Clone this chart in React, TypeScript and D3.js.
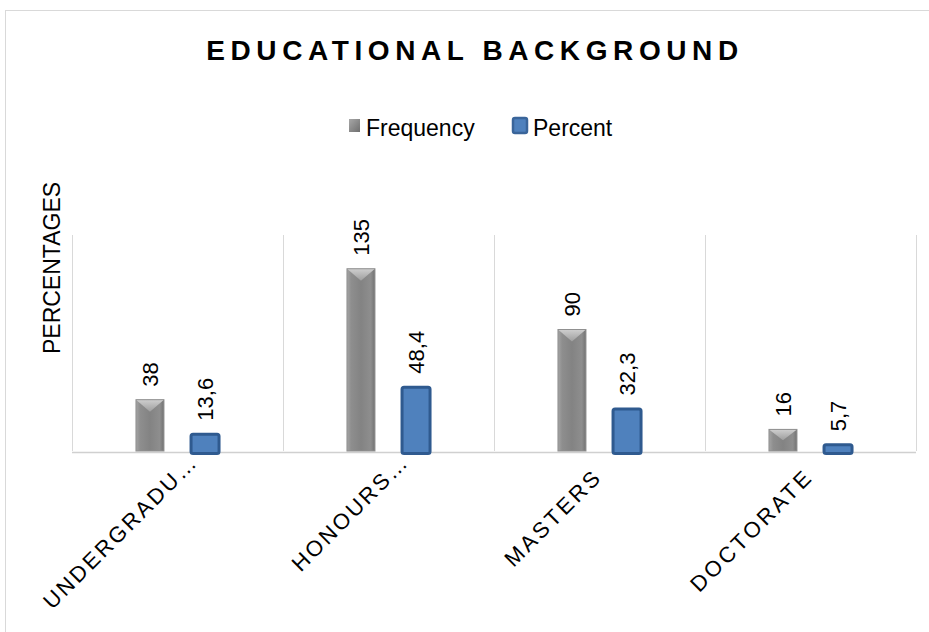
import React from "react";
import * as d3 from "d3";

const categories = ["UNDERGRADU…", "HONOURS…", "MASTERS", "DOCTORATE"];
const seriesNames = ["Frequency", "Percent"];
const frequency = [38, 135, 90, 16];
const percent = [13.6, 48.4, 32.3, 5.7];
const percentLabels = ["13,6", "48,4", "32,3", "5,7"];

const W = 929, H = 632;
const plot = { left: 72, right: 916, top: 235, bottom: 451 };

export default function App() {
  const x0 = d3.scaleBand<string>().domain(categories).range([plot.left, plot.right]).padding(0);
  const bw = x0.bandwidth();
  const x1 = d3
    .scaleBand<string>()
    .domain(seriesNames)
    .range([bw * 0.239, bw * 0.761])
    .paddingInner(0.5)
    .paddingOuter(0.25);
  const y = d3.scaleLinear().domain([0, 160]).range([plot.bottom, plot.top]);
  const font = "'Liberation Sans', Arial, sans-serif";
  const barW = 28;

  const gridXs = [...categories.map((c) => x0(c)!), plot.right];

  return (
    <svg width={W} height={H} style={{ position: "absolute", left: 0, top: 0 }} fontFamily={font}>
      <defs>
        <linearGradient id="gbar" x1="0" x2="1" y1="0" y2="0">
          <stop offset="0" stopColor="#a4a4a4" />
          <stop offset="0.15" stopColor="#8e8e8e" />
          <stop offset="0.5" stopColor="#838383" />
          <stop offset="0.85" stopColor="#8e8e8e" />
          <stop offset="1" stopColor="#727272" />
        </linearGradient>
        <linearGradient id="gtop" x1="0" x2="0" y1="0" y2="1">
          <stop offset="0" stopColor="#cfcfcf" />
          <stop offset="1" stopColor="#9e9e9e" />
        </linearGradient>
        <linearGradient id="leg" x1="0" x2="1" y1="0" y2="1">
          <stop offset="0" stopColor="#a8a8a8" />
          <stop offset="1" stopColor="#6e6e6e" />
        </linearGradient>
      </defs>
      <rect x={0} y={0} width={W} height={H} fill="#ffffff" />
      <rect x={5.5} y={10.5} width={W + 10} height={H + 10} fill="none" stroke="#d9d9d9" strokeWidth={1} />

      <text x={475} y={60} textAnchor="middle" fontSize={28} fontWeight="bold" letterSpacing={5.6} fill="#000">
        EDUCATIONAL BACKGROUND
      </text>

      {/* legend */}
      <rect x={349} y={119} width={11} height={13} fill="url(#leg)" />
      <text x={366} y={136} fontSize={23} fill="#000">Frequency</text>
      <rect x={513} y={118} width={14} height={15} rx={2} fill="#4f81bd" stroke="#3a659a" strokeWidth={2.5} />
      <text x={533} y={136} fontSize={23} fill="#000">Percent</text>

      {/* y title */}
      <text transform={`translate(60,${268}) rotate(-90)`} textAnchor="middle" fontSize={23} fill="#000">
        PERCENTAGES
      </text>

      {/* gridlines */}
      {gridXs.map((gx, i) => (
        <line key={i} x1={gx + 0.5} x2={gx + 0.5} y1={plot.top} y2={plot.bottom} stroke="#d9d9d9" />
      ))}
      <line x1={plot.left} x2={plot.right} y1={plot.bottom + 1.5} y2={plot.bottom + 1.5} stroke="#d0d0d0" strokeWidth={1.5} />

      {categories.map((c, i) => {
        const cx0 = x0(c)!;
        const fc = cx0 + x1("Frequency")! + x1.bandwidth() / 2;
        const pc = cx0 + x1("Percent")! + x1.bandwidth() / 2;
        const fy = y(frequency[i]);
        const py = y(percent[i]);
        const fx = fc - barW / 2;
        const px = pc - barW / 2;
        const bev = Math.min(12, (plot.bottom - fy) / 2);
        const truncated = c.endsWith("…");
        const lx = cx0 + bw / 2 + (truncated ? 22 : 4);
        const ly = truncated ? 463 : 478;
        return (
          <g key={c}>
            <rect x={fx} y={fy} width={barW} height={plot.bottom - fy} fill="url(#gbar)" />
            <path d={`M${fx},${fy}L${fx + barW},${fy}L${fc},${fy + bev}Z`} fill="url(#gtop)" />
            <rect x={fx} y={fy} width={barW} height={plot.bottom - fy} fill="none" stroke="#909090" strokeWidth={1} />
            <rect x={px} y={py + 1.5} width={barW} height={plot.bottom - py + 1} rx={2} fill="#4f81bd" stroke="#2f5a8f" strokeWidth={3} />
            <text transform={`translate(${fc + 2},${fy - 13}) rotate(-90)`} fontSize={22} dominantBaseline="middle" fill="#000">
              {frequency[i]}
            </text>
            <text transform={`translate(${pc + 2},${py - 12}) rotate(-90)`} fontSize={22} dominantBaseline="middle" fill="#000">
              {percentLabels[i]}
            </text>
            <text
              transform={`translate(${lx},${ly}) rotate(-45)`}
              textAnchor="end"
              fontSize={22}
              letterSpacing={truncated ? 2.6 : 3}
              fill="#000"
            >
              {c}
            </text>
          </g>
        );
      })}
    </svg>
  );
}
